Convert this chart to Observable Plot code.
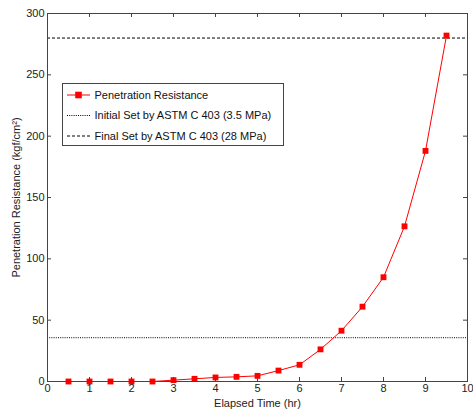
<!DOCTYPE html>
<html>
<head>
<meta charset="utf-8">
<script src="https://cdn.jsdelivr.net/npm/d3@7"></script>
<script src="https://cdn.jsdelivr.net/npm/@observablehq/plot@0.6"></script>
<style>
  html, body { margin: 0; padding: 0; background: #fff; }
</style>
</head>
<body>
<div id="chart"></div>
<script>
const times = [0.5, 1, 1.5, 2, 2.5, 3, 3.5, 4, 4.5, 5, 5.5, 6, 6.5, 7, 7.5, 8, 8.5, 9, 9.5];
const resistance = [0, 0, 0, 0, 0, 1.1, 2.2, 3.3, 3.8, 4.6, 8.9, 13.6, 26.2, 41.4, 61, 85, 126.5, 188, 282];
const initialSet = [35.7];
const finalSet = [280];
const xTicks = [0, 1, 2, 3, 4, 5, 6, 7, 8, 9, 10];
const yTicks = [0, 50, 100, 150, 200, 250, 300];
const legendLabels = ["Penetration Resistance", "Initial Set by ASTM C 403 (3.5 MPa)", "Final Set by ASTM C 403 (28 MPa)"];

const data = times.map((t, i) => ({t, r: resistance[i]}));

const W = 473, H = 410, mL = 47, mR = 6, mT = 13, mB = 29;
const plotW = W - mL - mR, plotH = H - mT - mB;
const tk = 4;
const font = "'Liberation Sans', Arial, Helvetica, sans-serif";

const chart = Plot.plot({
  width: W, height: H,
  marginLeft: mL, marginRight: mR, marginTop: mT, marginBottom: mB,
  style: {fontFamily: font, fontSize: "11px", background: "#fff", color: "#222"},
  x: {domain: [0, 10]},
  y: {domain: [0, 300]},
  marks: [
    Plot.ruleY(initialSet, {stroke: "#000", strokeWidth: 1, strokeDasharray: "1,1.2"}),
    Plot.ruleY(finalSet, {stroke: "#000", strokeWidth: 1, strokeDasharray: "3,2"}),
    Plot.line(data, {x: "t", y: "r", stroke: "#ff0000", strokeWidth: 1}),
    Plot.dot(data, {x: "t", y: "r", symbol: "square", fill: "#ff0000", stroke: "none", r: 3.3}),
    // inward ticks, all four sides
    Plot.ruleX(xTicks, {x: d => d, insetTop: plotH - tk, stroke: "#444"}),
    Plot.ruleX(xTicks, {x: d => d, insetBottom: plotH - tk, stroke: "#444"}),
    Plot.ruleY(yTicks, {y: d => d, insetRight: plotW - tk, stroke: "#444"}),
    Plot.ruleY(yTicks, {y: d => d, insetLeft: plotW - tk, stroke: "#444"}),
    Plot.frame({stroke: "#444"}),
    Plot.axisX({ticks: xTicks, tickSize: 0, tickPadding: 3, tickFormat: d => String(d),
      label: "Elapsed Time (hr)", labelAnchor: "center", labelArrow: "none", labelOffset: 25}),
    Plot.axisY({ticks: yTicks, tickSize: 0, tickPadding: 3, tickFormat: d => String(d),
      label: "Penetration Resistance (kgf/cm²)", labelAnchor: "center", labelArrow: "none", labelOffset: 35})
  ]
});

document.getElementById("chart").appendChild(chart);

// Legend box (MATLAB-style) drawn into the plot svg
const svg = d3.select(chart);
const lg = svg.append("g").attr("font-family", font).attr("font-size", 11).attr("fill", "#111")
  .attr("text-anchor", "start");
const bx = 62.5, by = 83.5, bw = 221, bh = 62;
lg.append("rect").attr("x", bx).attr("y", by).attr("width", bw).attr("height", bh)
  .attr("fill", "#fff").attr("stroke", "#444");
const rows = [95, 115.5, 136];
const styles = [
  {stroke: "#ff0000", dash: null, marker: true},
  {stroke: "#000", dash: "1,1.2", marker: false},
  {stroke: "#000", dash: "3,2", marker: false}
];
legendLabels.forEach((lab, i) => {
  const y = rows[i];
  const s = styles[i];
  const ln = lg.append("line").attr("x1", 67).attr("x2", 90).attr("y1", y).attr("y2", y)
    .attr("stroke", s.stroke).attr("stroke-width", 1);
  if (s.dash) ln.attr("stroke-dasharray", s.dash);
  if (s.marker) lg.append("rect").attr("x", 78.5 - 3.3).attr("y", y - 3.3).attr("width", 6.6).attr("height", 6.6).attr("fill", "#ff0000");
  lg.append("text").attr("x", 94.5).attr("y", y).attr("dy", "0.35em").attr("text-anchor", "start").text(lab);
});
</script>
</body>
</html>
